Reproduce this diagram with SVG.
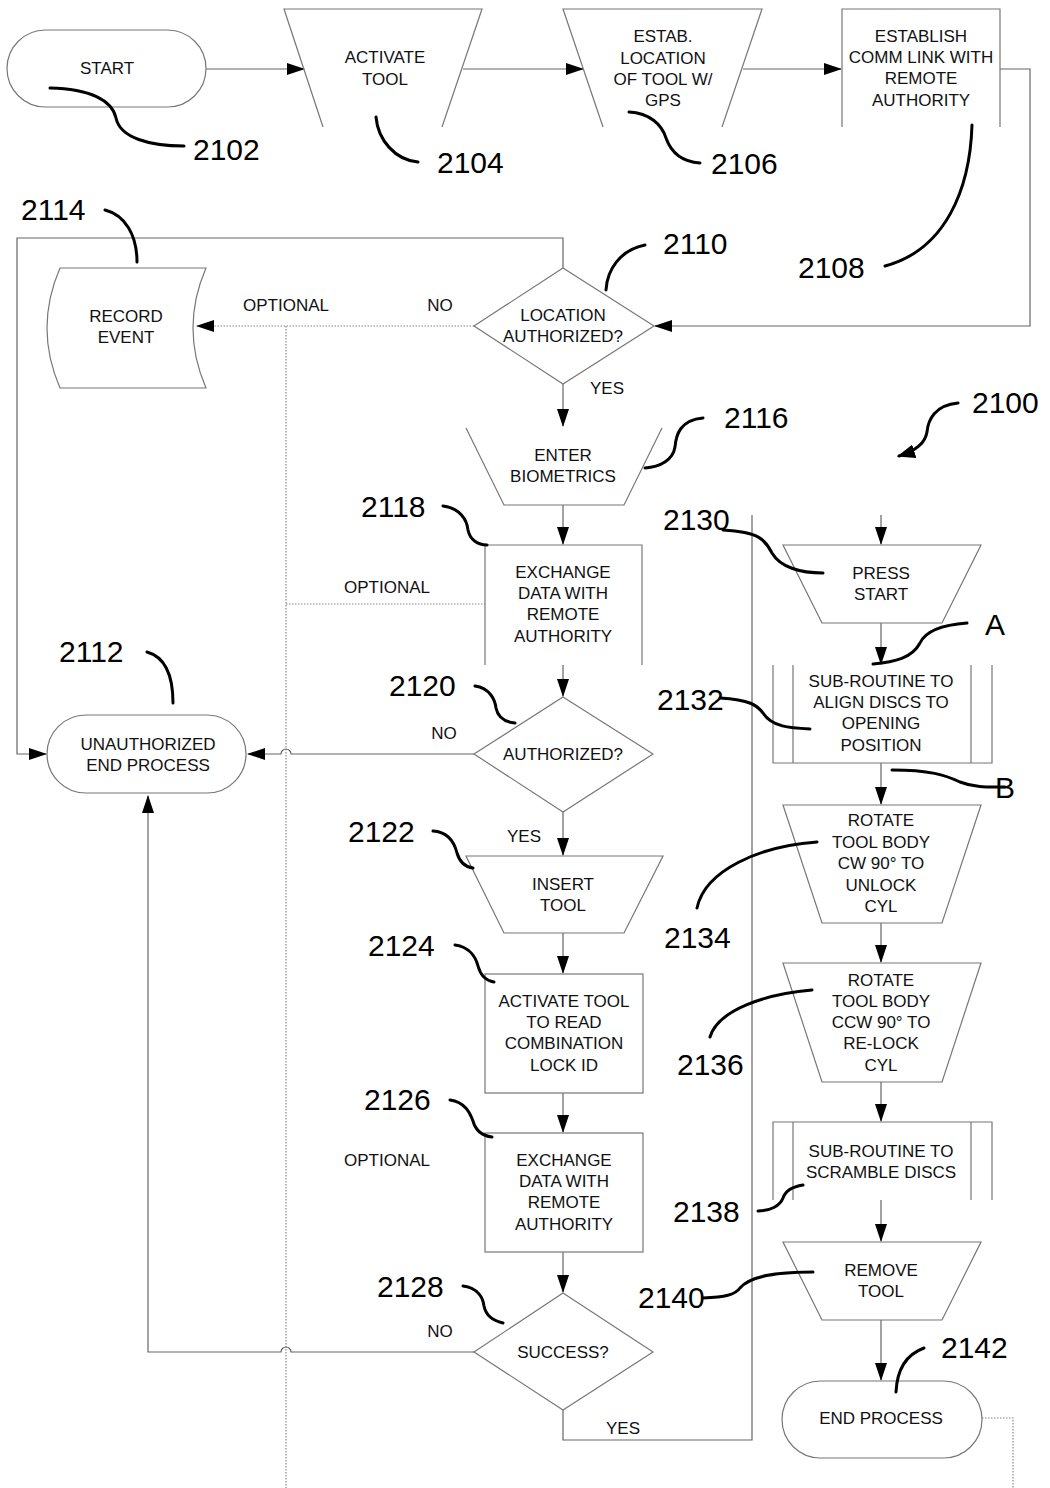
<svg xmlns="http://www.w3.org/2000/svg" width="1050" height="1488" viewBox="0 0 1050 1488">
<style>
.shape{fill:none;stroke:#777;stroke-width:1.2}
.conn{fill:none;stroke:#666;stroke-width:1.2}
.dot{fill:none;stroke:#888;stroke-width:1.2;stroke-dasharray:1.5 1.5}
.lead{fill:none;stroke:#000;stroke-width:3;stroke-linecap:round}
.t{font-family:"Liberation Sans",Arial,sans-serif;font-size:17px;fill:#111;text-anchor:middle}
.n{font-family:"Liberation Sans",Arial,sans-serif;font-size:30px;fill:#000}
</style>
<defs>
<marker id="ar" markerWidth="18" markerHeight="12" refX="17" refY="6" orient="auto" markerUnits="userSpaceOnUse">
<path d="M0,0 L18,6 L0,12 Z" fill="#000"/>
</marker>
<marker id="ar2" markerWidth="18" markerHeight="14" refX="16" refY="7" orient="auto" markerUnits="userSpaceOnUse">
<path d="M0,0 L18,7 L0,14 Z" fill="#000"/>
</marker>
</defs>

<g id="connectors">
<path class="conn" d="M206,69 H304" marker-end="url(#ar)"/>
<path class="conn" d="M463,69 H583" marker-end="url(#ar)"/>
<path class="conn" d="M743,69 H841" marker-end="url(#ar)"/>
<path class="conn" d="M1000,69 H1030 V326 H655" marker-end="url(#ar)"/>
<path class="conn" d="M563,268 V238 H17 V754 H46" marker-end="url(#ar)"/>
<path class="dot" d="M474,326 H197" marker-end="url(#ar)"/>
<path class="dot" d="M286,326 V1488"/>
<path class="dot" d="M286,604 H485"/>
<path class="conn" d="M563,384 V426" marker-end="url(#ar)"/>
<path class="conn" d="M563,505 V544" marker-end="url(#ar)"/>
<path class="conn" d="M563,665 V696" marker-end="url(#ar)"/>
<path class="conn" d="M474,754 H291 A5,5 0 0 0 281,754 H248" marker-end="url(#ar)"/>
<path class="conn" d="M563,812 V855" marker-end="url(#ar)"/>
<path class="conn" d="M563,933 V973" marker-end="url(#ar)"/>
<path class="conn" d="M563,1093 V1132" marker-end="url(#ar)"/>
<path class="conn" d="M563,1252 V1292" marker-end="url(#ar)"/>
<path class="conn" d="M474,1352 H291 A5,5 0 0 0 281,1352 H148 V796" marker-end="url(#ar)"/>
<path class="conn" d="M563,1410 V1440 H752 V515"/>
<path class="conn" d="M881,515 V544" marker-end="url(#ar)"/>
<path class="conn" d="M881,623 V664" marker-end="url(#ar)"/>
<path class="conn" d="M881,763 V804" marker-end="url(#ar)"/>
<path class="conn" d="M881,923 V962" marker-end="url(#ar)"/>
<path class="conn" d="M881,1082 V1121" marker-end="url(#ar)"/>
<path class="conn" d="M881,1200 V1241" marker-end="url(#ar)"/>
<path class="conn" d="M881,1320 V1380" marker-end="url(#ar)"/>
<path class="dot" d="M982,1418 H1013 V1488"/>
</g>

<g id="n2102">
<rect class="shape" x="7" y="30" width="199" height="77" rx="38.5"/>
<text class="t" x="107" y="74">START</text>
</g>
<g id="n2104">
<path class="shape" d="M323,127 L284,9 H482 L442,127"/>
<text class="t" x="385" y="63">ACTIVATE</text>
<text class="t" x="385" y="85">TOOL</text>
</g>
<g id="n2106">
<path class="shape" d="M603,127 L563,9 H762 L722,127"/>
<text class="t" x="663" y="42">ESTAB.</text>
<text class="t" x="663" y="64">LOCATION</text>
<text class="t" x="663" y="85">OF TOOL W/</text>
<text class="t" x="663" y="106">GPS</text>
</g>
<g id="n2108">
<path class="shape" d="M842,127 V9 H1000 V127"/>
<text class="t" x="921" y="42">ESTABLISH</text>
<text class="t" x="921" y="63">COMM LINK WITH</text>
<text class="t" x="921" y="84">REMOTE</text>
<text class="t" x="921" y="106">AUTHORITY</text>
</g>
<g id="n2110">
<path class="shape" d="M563,268 L654,326 L563,384 L474,326 Z"/>
<text class="t" x="563" y="321">LOCATION</text>
<text class="t" x="563" y="342">AUTHORIZED?</text>
<text class="t" x="286" y="311">OPTIONAL</text>
<text class="t" x="440" y="311">NO</text>
<text class="t" x="607" y="394">YES</text>
</g>
<g id="n2114">
<path class="shape" d="M60,268 H206 Q180,328 206,388 H60 Q34,328 60,268 Z"/>
<text class="t" x="126" y="322">RECORD</text>
<text class="t" x="126" y="343">EVENT</text>
</g>
<g id="n2116">
<path class="shape" d="M466,428 L504,505 H624 L662,428"/>
<text class="t" x="563" y="461">ENTER</text>
<text class="t" x="563" y="482">BIOMETRICS</text>
</g>
<g id="n2118">
<path class="shape" d="M485,665 V545 H642 V665"/>
<text class="t" x="563" y="578">EXCHANGE</text>
<text class="t" x="563" y="599">DATA WITH</text>
<text class="t" x="563" y="620">REMOTE</text>
<text class="t" x="563" y="642">AUTHORITY</text>
<text class="t" x="387" y="593">OPTIONAL</text>
</g>
<g id="n2120">
<path class="shape" d="M563,697 L653,754 L563,812 L474,754 Z"/>
<text class="t" x="563" y="760">AUTHORIZED?</text>
<text class="t" x="444" y="739">NO</text>
<text class="t" x="524" y="842">YES</text>
</g>
<g id="n2112">
<rect class="shape" x="47" y="715" width="199" height="78" rx="39"/>
<text class="t" x="148" y="750">UNAUTHORIZED</text>
<text class="t" x="148" y="771">END PROCESS</text>
</g>
<g id="n2122">
<path class="shape" d="M466,856 H663 L624,933 H504 Z"/>
<text class="t" x="563" y="890">INSERT</text>
<text class="t" x="563" y="911">TOOL</text>
</g>
<g id="n2124">
<rect class="shape" x="485" y="974" width="158" height="119"/>
<text class="t" x="564" y="1007">ACTIVATE TOOL</text>
<text class="t" x="564" y="1028">TO READ</text>
<text class="t" x="564" y="1049">COMBINATION</text>
<text class="t" x="564" y="1071">LOCK ID</text>
</g>
<g id="n2126">
<rect class="shape" x="485" y="1133" width="158" height="119"/>
<text class="t" x="564" y="1166">EXCHANGE</text>
<text class="t" x="564" y="1187">DATA WITH</text>
<text class="t" x="564" y="1208">REMOTE</text>
<text class="t" x="564" y="1230">AUTHORITY</text>
<text class="t" x="387" y="1166">OPTIONAL</text>
</g>
<g id="n2128">
<path class="shape" d="M563,1293 L653,1352 L563,1410 L474,1352 Z"/>
<text class="t" x="563" y="1358">SUCCESS?</text>
<text class="t" x="440" y="1337">NO</text>
<text class="t" x="623" y="1434">YES</text>
</g>
<g id="n2130">
<path class="shape" d="M783,545 H981 L942,623 H822 Z"/>
<text class="t" x="881" y="579">PRESS</text>
<text class="t" x="881" y="600">START</text>
</g>
<g id="n2132">
<path class="shape" d="M773,665 V763 H992 V665 M793,665 V763 M971,665 V763"/>
<text class="t" x="881" y="687">SUB-ROUTINE TO</text>
<text class="t" x="881" y="708">ALIGN DISCS TO</text>
<text class="t" x="881" y="729">OPENING</text>
<text class="t" x="881" y="751">POSITION</text>
</g>
<g id="n2134">
<path class="shape" d="M783,805 H981 L942,923 H822 Z"/>
<text class="t" x="881" y="826">ROTATE</text>
<text class="t" x="881" y="848">TOOL BODY</text>
<text class="t" x="881" y="869">CW 90° TO</text>
<text class="t" x="881" y="891">UNLOCK</text>
<text class="t" x="881" y="912">CYL</text>
</g>
<g id="n2136">
<path class="shape" d="M783,963 H981 L942,1082 H822 Z"/>
<text class="t" x="881" y="986">ROTATE</text>
<text class="t" x="881" y="1007">TOOL BODY</text>
<text class="t" x="881" y="1028">CCW 90° TO</text>
<text class="t" x="881" y="1049">RE-LOCK</text>
<text class="t" x="881" y="1071">CYL</text>
</g>
<g id="n2138">
<path class="shape" d="M773,1200 V1122 H992 V1200 M793,1122 V1200 M971,1122 V1200"/>
<text class="t" x="881" y="1157">SUB-ROUTINE TO</text>
<text class="t" x="881" y="1178">SCRAMBLE DISCS</text>
</g>
<g id="n2140">
<path class="shape" d="M783,1242 H981 L942,1320 H822 Z"/>
<text class="t" x="881" y="1276">REMOVE</text>
<text class="t" x="881" y="1297">TOOL</text>
</g>
<g id="n2142">
<rect class="shape" x="782" y="1381" width="200" height="77" rx="38.5"/>
<text class="t" x="881" y="1424">END PROCESS</text>
</g>

<g id="leaders">
<path class="lead" d="M50,88 C90,89 112,100 116,118 C120,138 150,146 184,146"/>
<path class="lead" d="M376,117 C378,140 395,160 418,162"/>
<path class="lead" d="M629,112 C650,113 662,125 666,138 C672,155 685,162 700,163"/>
<path class="lead" d="M972,125 C970,190 945,250 885,266"/>
<path class="lead" d="M645,245 C620,250 607,270 606,290"/>
<path class="lead" d="M105,210 C125,215 137,235 137,262"/>
<path class="lead" d="M703,418 C680,420 676,435 675,447 C673,460 660,467 645,468"/>
<path class="lead" d="M958,403 C935,405 928,420 927,432 C925,445 912,452 899,456" marker-end="url(#ar2)"/>
<path class="lead" d="M723,530 C760,532 765,540 772,553 C780,567 800,573 823,573"/>
<path class="lead" d="M967,623 C940,625 925,632 920,643 C912,658 895,662 873,664"/>
<path class="lead" d="M720,698 C750,700 757,705 763,713 C772,727 790,728 810,729"/>
<path class="lead" d="M892,770 C930,770 945,775 960,782 C975,788 990,787 1005,787"/>
<path class="lead" d="M817,842 C760,846 705,870 697,908"/>
<path class="lead" d="M812,990 C765,994 718,1010 710,1037"/>
<path class="lead" d="M803,1185 C790,1187 785,1192 783,1198 C780,1206 770,1211 758,1211"/>
<path class="lead" d="M703,1298 C725,1297 735,1295 740,1288 C750,1276 775,1272 813,1272"/>
<path class="lead" d="M924,1348 C905,1355 897,1370 896,1392"/>
<path class="lead" d="M147,652 C165,657 173,675 173,703"/>
<path class="lead" d="M443,506 C460,508 467,520 468,530 C470,540 478,545 487,545"/>
<path class="lead" d="M475,686 C490,688 495,700 496,708 C498,718 505,722 515,723"/>
<path class="lead" d="M433,831 C450,832 455,845 457,853 C460,863 465,867 473,868"/>
<path class="lead" d="M455,945 C470,947 476,958 478,966 C481,977 487,981 494,982"/>
<path class="lead" d="M450,1100 C465,1102 470,1113 473,1121 C476,1132 484,1136 492,1137"/>
<path class="lead" d="M463,1286 C478,1288 483,1298 484,1306 C486,1316 494,1321 503,1323"/>
</g>

<g id="refs">
<text class="n" x="193" y="160">2102</text>
<text class="n" x="437" y="173">2104</text>
<text class="n" x="711" y="174">2106</text>
<text class="n" x="798" y="278">2108</text>
<text class="n" x="663" y="254">2110</text>
<text class="n" x="21" y="220">2114</text>
<text class="n" x="724" y="428">2116</text>
<text class="n" x="972" y="413">2100</text>
<text class="n" x="361" y="517">2118</text>
<text class="n" x="663" y="530">2130</text>
<text class="n" x="59" y="662">2112</text>
<text class="n" x="389" y="696">2120</text>
<text class="n" x="657" y="710">2132</text>
<text class="n" x="348" y="842">2122</text>
<text class="n" x="664" y="948">2134</text>
<text class="n" x="368" y="956">2124</text>
<text class="n" x="677" y="1075">2136</text>
<text class="n" x="364" y="1110">2126</text>
<text class="n" x="673" y="1222">2138</text>
<text class="n" x="377" y="1297">2128</text>
<text class="n" x="638" y="1308">2140</text>
<text class="n" x="941" y="1358">2142</text>
<text class="n" x="985" y="635">A</text>
<text class="n" x="995" y="798">B</text>
</g>
</svg>
